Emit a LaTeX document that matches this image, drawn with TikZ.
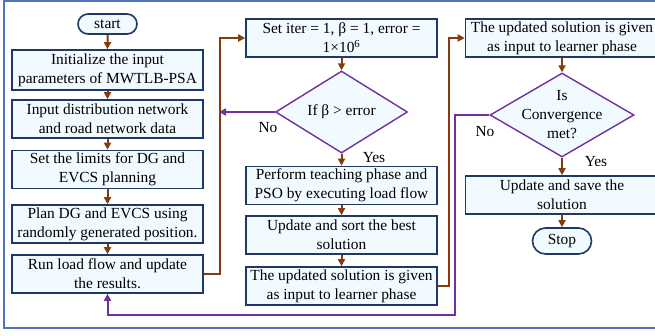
\documentclass[tikz,border=0pt]{standalone}
\usepackage{fontspec}
\setmainfont{Liberation Serif}
\usetikzlibrary{shapes.geometric}
\usetikzlibrary{shapes.misc}
\usetikzlibrary{arrows.meta}
\definecolor{boxfill}{RGB}{240,250,255}
\definecolor{boxline}{RGB}{31,56,100}
\definecolor{flowbrown}{RGB}{132,60,12}
\definecolor{flowpurple}{RGB}{112,48,160}
\definecolor{framecol}{RGB}{80,115,190}
\tikzstyle{process}=[draw=boxline, fill=boxfill, line width=1.6pt, minimum width=191pt, minimum height=38pt, inner sep=0, align=center]
\tikzstyle{terminal}=[process, rounded rectangle, minimum width=59pt, minimum height=20pt]
\tikzstyle{decision}=[draw=flowpurple, fill=boxfill, line width=1.4pt, diamond, inner sep=0]
\tikzstyle{flow}=[draw=flowbrown, line width=2pt, -{Triangle[length=7pt,width=7pt]}]
\tikzstyle{backflow}=[flow, draw=flowpurple]
\tikzstyle{flowchart}=[x=1pt, y=-1pt,
                       % Same font for every text.
                       every node/.style={font=\fontsize{15.4}{19}\selectfont}]

\begin{document}
\begin{tikzpicture}[flowchart]
        \useasboundingbox (0, 0) rectangle (655, 335);
        \draw[framecol, line width=1.5pt] (4, 1) rectangle (670, 328);
        % First column
        \node[terminal]                     (S)  at (107.5, 24)  {start};
        \node[process, minimum height=40pt] (B1) at (107.5, 70)  {Initialize the input\\parameters of MWTLB-PSA};
        \node[process]                      (B2) at (107.5, 119) {Input distribution network\\and road network data};
        \node[process]                      (B3) at (107.5, 169.5) {Set the limits for DG and\\EVCS planning};
        \node[process]                      (B4) at (107.5, 224) {Plan DG and EVCS using\\randomly generated position.};
        \node[process]                      (B5) at (107.5, 274) {Run load flow and update\\the results.};
        % Second column
        \node[process]                      (C1) at (341.5, 38)  {Set iter = 1, β = 1, error =\\1×10\textsuperscript{6}};
        \node[decision, minimum width=132pt, minimum height=82pt,
              label=center:{If β > error}]  (D1) at (341.5, 112) {};
        \node[process]                      (C2) at (341.5, 185.5) {Perform teaching phase and\\PSO by executing load flow};
        \node[process]                      (C3) at (341.5, 235) {Update and sort the best\\solution};
        \node[process]                      (C4) at (341.5, 286) {The updated solution is given\\as input to learner phase};
        % Third column
        \node[process, minimum width=193pt] (E1) at (562, 38)  {The updated solution is given\\as input to learner phase};
        \node[decision, minimum width=144pt, minimum height=84pt,
              label={[align=center]center:Is\\Convergence\\met?}] (D2) at (562, 115) {};
        \node[process, minimum width=193pt] (E2) at (562, 195) {Update and save the\\solution};
        \node[terminal, minimum height=26pt] (T) at (562, 241) {Stop};
        \node (N1) at (268, 128) {No};
        \node (Y1) at (374, 158) {Yes};
        \node (N2) at (485, 132) {No};
        \node (Y2) at (596, 162) {Yes};
        \coordinate (J1) at (219, 112);
        \draw[flow] (S) -- (B1);
        \draw[flow] (B1) -- (B2);
        \draw[flow] (B2) -- (B3);
        \draw[flow] (B3) -- (B4);
        \draw[flow] (B4) -- (B5);
        \draw[flow] (B5.east) -- ++(16, 0) |- (C1.west);
        \draw[flow] (C1) -- (D1);
        \draw[backflow] (D1.west) -- (J1);
        \draw[flow] (D1) -- (C2);
        \draw[flow] (C2) -- (C3);
        \draw[flow] (C3) -- (C4);
        \draw[flow] (C4.east) -- ++(11, 0) |- (E1.west);
        \draw[flow] (E1) -- (D2);
        \draw[flow] (D2) -- (E2);
        \draw[flow] (E2) -- (T);
        \draw[backflow] (D2.west) -- ++(-34, 0) -- ++(0, 200) -| (B5.south);
    \end{tikzpicture}
\end{document}
